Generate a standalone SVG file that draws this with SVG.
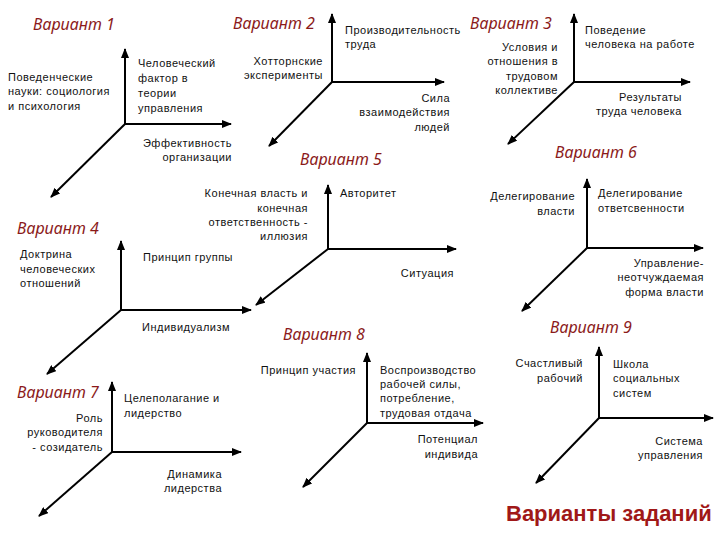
<svg xmlns="http://www.w3.org/2000/svg" width="720" height="540" viewBox="0 0 720 540">
<style>
.t{font-family:"Liberation Sans",Arial,sans-serif;font-size:11px;letter-spacing:0.5px;fill:#111}
.r{text-anchor:end}
.h{font-family:"Noto Sans","Open Sans",sans-serif;font-style:italic;font-size:16px;fill:#8b1a1a}
.ax{stroke:#000;stroke-width:2;fill:none;marker-end:url(#ah)}
.big{font-family:"Liberation Sans",Arial,sans-serif;font-weight:bold;font-size:22px;fill:#a01818}
</style>
<defs>
<marker id="ah" markerUnits="userSpaceOnUse" markerWidth="10" markerHeight="8" refX="9" refY="4" orient="auto">
<path d="M0,0 L10,4 L0,8 Z" fill="#000"/>
</marker>
</defs>
<rect width="720" height="540" fill="#fff"/>
<g id="connectors">
<path class="ax" d="M125,124 V49"/><path class="ax" d="M125,124 H231"/><path class="ax" d="M125,124 L51,197"/>
<path class="ax" d="M332,82 V14"/><path class="ax" d="M332,82 H444"/><path class="ax" d="M332,82 L269,146"/>
<path class="ax" d="M574,82 V14"/><path class="ax" d="M574,82 H690"/><path class="ax" d="M574,82 L508,144"/>
<path class="ax" d="M121,310 V241"/><path class="ax" d="M121,310 H251"/><path class="ax" d="M121,310 L47,374"/>
<path class="ax" d="M328,249 V185"/><path class="ax" d="M328,249 H456"/><path class="ax" d="M328,249 L256,305"/>
<path class="ax" d="M587,248 V179"/><path class="ax" d="M587,248 H703"/><path class="ax" d="M587,248 L522,311"/>
<path class="ax" d="M112,452 V382"/><path class="ax" d="M112,452 H241"/><path class="ax" d="M112,452 L39,516"/>
<path class="ax" d="M367,423 V353"/><path class="ax" d="M367,423 H483"/><path class="ax" d="M367,423 L303,487"/>
<path class="ax" d="M599,418 V347"/><path class="ax" d="M599,418 H713"/><path class="ax" d="M599,418 L536,483"/>
</g>
<g id="v1">
<text class="h" x="33" y="30">Вариант 1</text>
<text class="t" x="8" y="81">Поведенческие</text><text class="t" x="8" y="95">науки: социология</text><text class="t" x="8" y="110">и психология</text>
<text class="t" x="138" y="67">Человеческий</text><text class="t" x="138" y="82">фактор в</text><text class="t" x="138" y="97">теории</text><text class="t" x="138" y="112">управления</text>
<text class="t r" x="232" y="147">Эффективность</text><text class="t r" x="232" y="161">организации</text>
</g>
<g id="v2">
<text class="h" x="233" y="29">Вариант 2</text>
<text class="t" x="345" y="34">Производительность</text><text class="t" x="345" y="48">труда</text>
<text class="t r" x="323" y="65">Хотторнские</text><text class="t r" x="323" y="79">эксперименты</text>
<text class="t r" x="450" y="102">Сила</text><text class="t r" x="450" y="116">взаимодействия</text><text class="t r" x="450" y="131">людей</text>
</g>
<g id="v3">
<text class="h" x="470" y="29">Вариант 3</text>
<text class="t" x="585" y="34">Поведение</text><text class="t" x="585" y="48">человека на работе</text>
<text class="t r" x="558" y="51">Условия и</text><text class="t r" x="558" y="65">отношения в</text><text class="t r" x="558" y="80">трудовом</text><text class="t r" x="558" y="94">коллективе</text>
<text class="t r" x="682" y="101">Результаты</text><text class="t r" x="682" y="115">труда человека</text>
</g>
<g id="v4">
<text class="h" x="17" y="234">Вариант 4</text>
<text class="t" x="20" y="258">Доктрина</text><text class="t" x="20" y="273">человеческих</text><text class="t" x="20" y="287">отношений</text>
<text class="t" x="143" y="261">Принцип группы</text>
<text class="t" x="142" y="331">Индивидуализм</text>
</g>
<g id="v5">
<text class="h" x="300" y="165">Вариант 5</text>
<text class="t r" x="308" y="197">Конечная власть и</text><text class="t r" x="308" y="212">конечная</text><text class="t r" x="308" y="226">ответственность -</text><text class="t r" x="308" y="240">иллюзия</text>
<text class="t" x="340" y="197">Авторитет</text>
<text class="t r" x="454" y="277">Ситуация</text>
</g>
<g id="v6">
<text class="h" x="555" y="158">Вариант 6</text>
<text class="t r" x="575" y="200">Делегирование</text><text class="t r" x="575" y="215">власти</text>
<text class="t" x="598" y="197">Делегирование</text><text class="t" x="598" y="212">ответсвенности</text>
<text class="t r" x="704" y="267">Управление-</text><text class="t r" x="704" y="281">неотчуждаемая</text><text class="t r" x="704" y="296">форма власти</text>
</g>
<g id="v7">
<text class="h" x="17" y="398">Вариант 7</text>
<text class="t r" x="103" y="422">Роль</text><text class="t r" x="103" y="436">руководителя</text><text class="t r" x="103" y="451">- созидатель</text>
<text class="t" x="124" y="402">Целеполагание и</text><text class="t" x="124" y="417">лидерство</text>
<text class="t r" x="222" y="478">Динамика</text><text class="t r" x="222" y="492">лидерства</text>
</g>
<g id="v8">
<text class="h" x="283" y="340">Вариант 8</text>
<text class="t r" x="356" y="374">Принцип участия</text>
<text class="t" x="380" y="374">Воспроизводство</text><text class="t" x="380" y="388">рабочей силы,</text><text class="t" x="380" y="402">потребление,</text><text class="t" x="380" y="417">трудовая отдача</text>
<text class="t r" x="478" y="443">Потенциал</text><text class="t r" x="478" y="458">индивида</text>
</g>
<g id="v9">
<text class="h" x="550" y="333">Вариант 9</text>
<text class="t r" x="583" y="367">Счастливый</text><text class="t r" x="583" y="382">рабочий</text>
<text class="t" x="613" y="368">Школа</text><text class="t" x="613" y="382">социальных</text><text class="t" x="613" y="397">систем</text>
<text class="t r" x="703" y="445">Система</text><text class="t r" x="703" y="459">управления</text>
</g>
<g id="title">
<text class="big" x="506" y="521">Варианты заданий</text>
</g>
</svg>
